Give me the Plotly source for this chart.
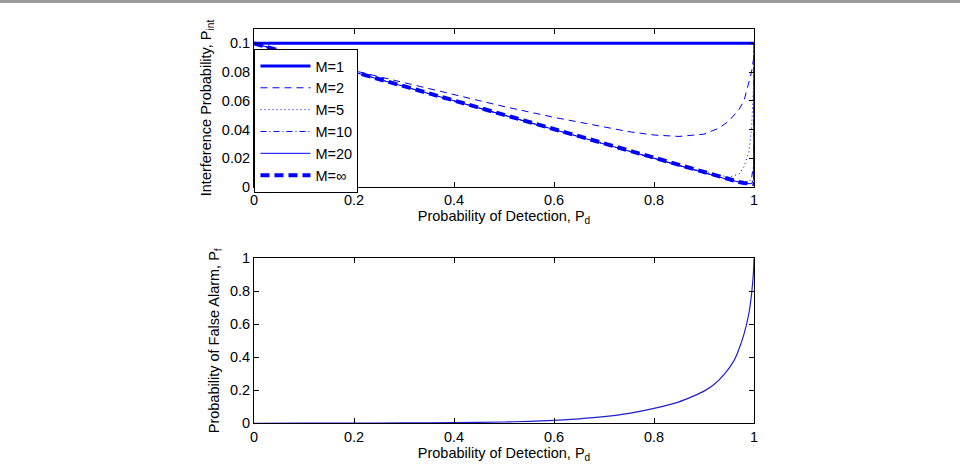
import plotly.graph_objects as go

# ---------------- data ----------------
pd_top = [0, 0.05, 0.1, 0.15, 0.2, 0.3, 0.4, 0.5, 0.6, 0.7, 0.75, 0.8, 0.85,
          0.9, 0.93, 0.95, 0.97, 0.98, 0.99, 0.995, 0.999, 1.0]

pint_m1 = [0.1] * len(pd_top)
pint_m2 = [0.1, 0.095, 0.0902, 0.0855, 0.081, 0.0725, 0.064, 0.056, 0.0485,
           0.0415, 0.0385, 0.0362, 0.0352, 0.0368, 0.041, 0.046, 0.054, 0.06,
           0.073, 0.08, 0.089, 0.095]
pint_m5 = [0.1, 0.095, 0.09, 0.085, 0.08, 0.07, 0.06, 0.05, 0.04, 0.03, 0.025,
           0.02, 0.015, 0.0105, 0.0082, 0.0068, 0.009, 0.014, 0.025, 0.04,
           0.07, 0.1]
pint_m10 = [0.1, 0.095, 0.09, 0.085, 0.08, 0.07, 0.06, 0.05, 0.04, 0.03, 0.025,
            0.02, 0.015, 0.01, 0.007, 0.005, 0.0036, 0.0031, 0.0035, 0.006,
            0.015, 0.1]
pint_m20 = [0.1, 0.095, 0.09, 0.085, 0.08, 0.07, 0.06, 0.05, 0.04, 0.03, 0.025,
            0.02, 0.015, 0.01, 0.007, 0.005, 0.0035, 0.0028, 0.0023, 0.0024,
            0.005, 0.1]
pint_minf = [0.1, 0.095, 0.09, 0.085, 0.08, 0.07, 0.06, 0.05, 0.04, 0.03, 0.025,
             0.02, 0.015, 0.01, 0.007, 0.005, 0.0035, 0.0028, 0.0022, 0.002,
             0.002, 0.002]

pd_bot = [0, 0.1, 0.2, 0.3, 0.4, 0.5, 0.55, 0.6, 0.65, 0.7, 0.75, 0.8, 0.85,
          0.875, 0.9, 0.92, 0.94, 0.96, 0.97, 0.98, 0.99, 0.995, 0.999, 1.0]
pf_bot = [0, 0.0005, 0.001, 0.002, 0.004, 0.008, 0.012, 0.018, 0.027, 0.04,
          0.06, 0.09, 0.13, 0.16, 0.195, 0.235, 0.295, 0.38, 0.45, 0.54, 0.67,
          0.78, 0.92, 1.0]

x_ticks = [0, 0.2, 0.4, 0.6, 0.8, 1]
y_ticks_top = [0, 0.02, 0.04, 0.06, 0.08, 0.1]
y_ticks_bot = [0, 0.2, 0.4, 0.6, 0.8, 1]

# ---------------- figure ----------------
BLUE = "#0000FF"
FONT = "Liberation Sans, Arial, Helvetica, sans-serif"
FS = 14.5
W, H = 960, 466

fig = go.Figure()

series = [
    ("M=1", pint_m1, 3, "solid"),
    ("M=2", pint_m2, 1, "7px,5px"),
    ("M=5", pint_m5, 1, "1px,3px"),
    ("M=10", pint_m10, 1, "6px,3px,1px,3px"),
    ("M=20", pint_m20, 1, "solid"),
    ("M=\u221e", pint_minf, 4, "9px,5px"),
]
for name, ys, w, dash in series:
    fig.add_trace(go.Scatter(x=pd_top, y=ys, mode="lines", name=name,
                             line=dict(color=BLUE, width=w, dash=dash),
                             xaxis="x", yaxis="y"))

fig.add_trace(go.Scatter(x=pd_bot, y=pf_bot, mode="lines", showlegend=False,
                         line=dict(color="#2020d0", width=1.2, shape="spline",
                                   smoothing=0.8),
                         xaxis="x2", yaxis="y2"))

x0, x1 = 254 / W, 754 / W
top_dom = [1 - 187 / H, 1 - 29 / H]
bot_dom = [1 - 423.3 / H, 1 - 258.3 / H]

axis_common = dict(showline=True, linecolor="black", linewidth=1, mirror="ticks",
                   ticks="inside", ticklen=5, tickcolor="black", showgrid=False,
                   zeroline=False, automargin=False,
                   tickfont=dict(size=FS, color="black", family=FONT),
                   title_font=dict(size=FS, color="black", family=FONT))

fig.update_layout(
    width=W, height=H,
    margin=dict(l=0, r=0, t=0, b=0),
    paper_bgcolor="white", plot_bgcolor="white",
    font=dict(family=FONT, size=FS, color="black"),
    xaxis=dict(domain=[x0, x1], range=[0, 1], tickvals=x_ticks, anchor="y",
               title=dict(text="Probability of Detection, P<sub>d</sub>", standoff=2),
               **axis_common),
    yaxis=dict(domain=top_dom, range=[0, 0.11], tickvals=y_ticks_top, anchor="x",
               title=dict(text="Interference Probability, P<sub>int</sub>", standoff=6),
               **axis_common),
    xaxis2=dict(domain=[x0, x1], range=[0, 1], tickvals=x_ticks, anchor="y2",
                title=dict(text="Probability of Detection, P<sub>d</sub>", standoff=2),
                **axis_common),
    yaxis2=dict(domain=bot_dom, range=[0, 1], tickvals=y_ticks_bot, anchor="x2",
                title=dict(text="Probability of False Alarm, P<sub>f</sub>", standoff=6),
                **axis_common),
    legend=dict(x=x0 + 0.0005, y=1 - 49 / H, xanchor="left", yanchor="top",
                bgcolor="white", bordercolor="black", borderwidth=1,
                font=dict(size=FS, color="black", family=FONT),
                itemwidth=50, tracegroupgap=0),
    shapes=[dict(type="rect", xref="paper", yref="paper", x0=0, x1=1,
                 y0=1 - 3 / H, y1=1, line=dict(width=0), fillcolor="#9a9a9a")],
)

fig.write_html("out.html")
